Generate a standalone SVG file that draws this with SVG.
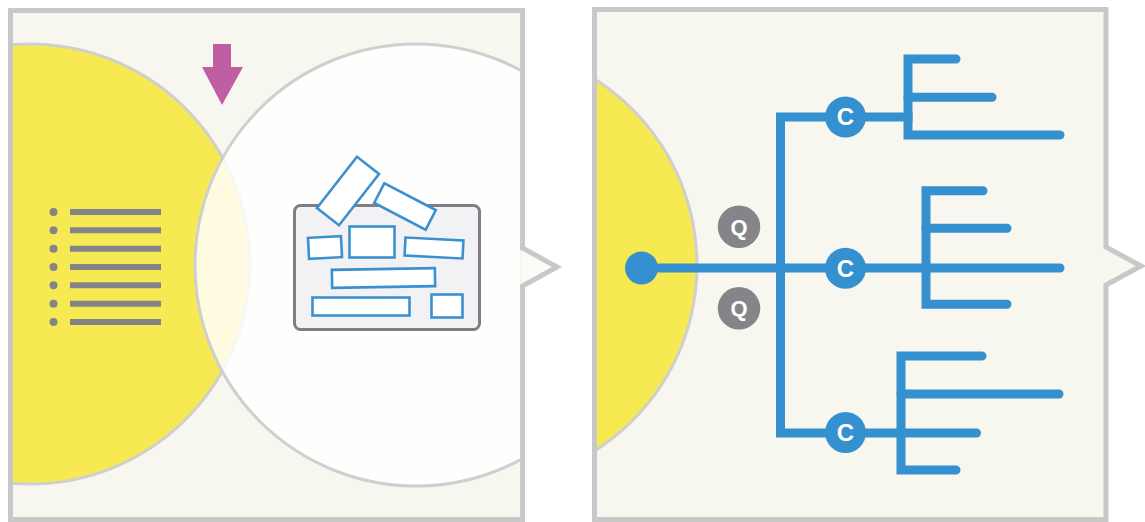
<svg xmlns="http://www.w3.org/2000/svg" width="1145" height="522" viewBox="0 0 1145 522">
<style>
.panel{fill:#f7f7ef;stroke:#c8c8c9;stroke-width:5;stroke-linejoin:miter}
.ring{stroke:#cfcfcf;stroke-width:3}
.yellow{fill:#f7e952}
.blk{fill:#fff;stroke:#3a90d0;stroke-width:2.6}
.li{stroke:#848488;stroke-width:6}
.dot{fill:#848488}
.br{fill:none;stroke:#3590d0;stroke-width:9;stroke-linecap:round;stroke-linejoin:miter}
.sq{fill:none;stroke:#3590d0;stroke-width:9;stroke-linecap:square}
.cn{fill:#3590d0}
.qn{fill:#858589}
.lbl{font-family:"Liberation Sans",Arial,sans-serif;font-weight:bold;fill:#fff;text-anchor:middle}
</style>
<defs>
<clipPath id="clipL"><rect x="13" y="13" width="507" height="504"/></clipPath>
<clipPath id="clipR"><rect x="597" y="12" width="507" height="505"/></clipPath>
</defs>

<g id="left-panel">
<path class="panel" d="M10.5,10.5 H522.5 V248 L557,267 L522.5,286 V519.5 H10.5 Z" style="stroke:none"/>
<path d="M522.5,248 L557,267 L522.5,286 Z" fill="#fbfbf7"/>
<g clip-path="url(#clipL)">
<circle class="yellow ring" cx="30" cy="264" r="220"/>
<circle cx="416" cy="265" r="221" fill="#ffffff" fill-opacity="0.82" class="ring"/>
</g>
<path class="panel" d="M10.5,10.5 H522.5 V248 L557,267 L522.5,286 V519.5 H10.5 Z" style="fill:none"/>
</g>

<g id="arrow">
<polygon points="213,44 231,44 231,67 243,67 222,105 202,67 213,67" fill="#c05ea3"/>
</g>

<g id="list">
<circle class="dot" cx="53.5" cy="212" r="4"/>
<circle class="dot" cx="53.5" cy="230.3" r="4"/>
<circle class="dot" cx="53.5" cy="248.7" r="4"/>
<circle class="dot" cx="53.5" cy="267" r="4"/>
<circle class="dot" cx="53.5" cy="285.3" r="4"/>
<circle class="dot" cx="53.5" cy="303.7" r="4"/>
<circle class="dot" cx="53.5" cy="322" r="4"/>
<line class="li" x1="70" y1="212" x2="161" y2="212"/>
<line class="li" x1="70" y1="230.3" x2="161" y2="230.3"/>
<line class="li" x1="70" y1="248.7" x2="161" y2="248.7"/>
<line class="li" x1="70" y1="267" x2="161" y2="267"/>
<line class="li" x1="70" y1="285.3" x2="161" y2="285.3"/>
<line class="li" x1="70" y1="303.7" x2="161" y2="303.7"/>
<line class="li" x1="70" y1="322" x2="161" y2="322"/>
</g>

<g id="board">
<rect x="294.5" y="205.5" width="185" height="124" rx="6" fill="#f2f2f4" stroke="#7f7f83" stroke-width="3"/>
<rect class="blk" x="-32.5" y="-14" width="65" height="28" transform="translate(348,191) rotate(-52)"/>
<rect class="blk" x="-29" y="-11" width="58" height="22" transform="translate(405,206.5) rotate(27.5)"/>
<rect class="blk" x="-16.5" y="-10.5" width="33" height="21" transform="translate(325,247.5) rotate(-3)"/>
<rect class="blk" x="349.5" y="226.5" width="45" height="31"/>
<rect class="blk" x="-29" y="-9" width="58" height="18" transform="translate(434,248) rotate(3)"/>
<rect class="blk" x="-51.5" y="-9" width="103" height="18" transform="translate(383.5,278) rotate(-1)"/>
<rect class="blk" x="312.5" y="297.5" width="97" height="18"/>
<rect class="blk" x="431.5" y="294.5" width="31" height="23"/>
</g>

<g id="right-panel">
<path class="panel" d="M594.5,9.5 H1106 V247 L1141,266 L1106,285 V519.5 H594.5 Z" style="stroke:none"/>
<g clip-path="url(#clipR)">
<circle class="yellow ring" cx="477" cy="265" r="220"/>
</g>
<path class="panel" d="M594.5,9.5 H1106 V247 L1141,266 L1106,285 V519.5 H594.5 Z" style="fill:none"/>
</g>

<g id="connectors">
<path class="br" d="M642,268 H1060"/>
<path class="sq" d="M845,117 H780.5 V433 H845"/>
<path class="sq" d="M845,117 H908"/>
<path class="br" d="M956,59 H908 V135 H1060"/>
<path class="br" d="M908,97.3 H992"/>
<path class="br" d="M983,190.7 H926 V304.3 H1007"/>
<path class="br" d="M926,228.3 H1007"/>
<path class="br" d="M845,433 H976.5"/>
<path class="br" d="M982,356 H901 V470 H956"/>
<path class="br" d="M901,394 H1059"/>
</g>

<g id="source-dot"><circle class="cn" cx="641.5" cy="268" r="16.5"/></g>

<g id="q1"><circle class="qn" cx="739" cy="226.7" r="21.3"/><text class="lbl" x="739" y="234.5" font-size="22">Q</text></g>
<g id="q2"><circle class="qn" cx="739" cy="308.3" r="21.3"/><text class="lbl" x="739" y="316.1" font-size="22">Q</text></g>

<g id="c1"><circle class="cn" cx="845.5" cy="117" r="20.5"/><text class="lbl" x="845.5" y="125" font-size="24">C</text></g>
<g id="c2"><circle class="cn" cx="845.5" cy="268.3" r="20.5"/><text class="lbl" x="845.5" y="276.8" font-size="24">C</text></g>
<g id="c3"><circle class="cn" cx="845.5" cy="432.5" r="20.5"/><text class="lbl" x="845.5" y="441" font-size="24">C</text></g>
</svg>
